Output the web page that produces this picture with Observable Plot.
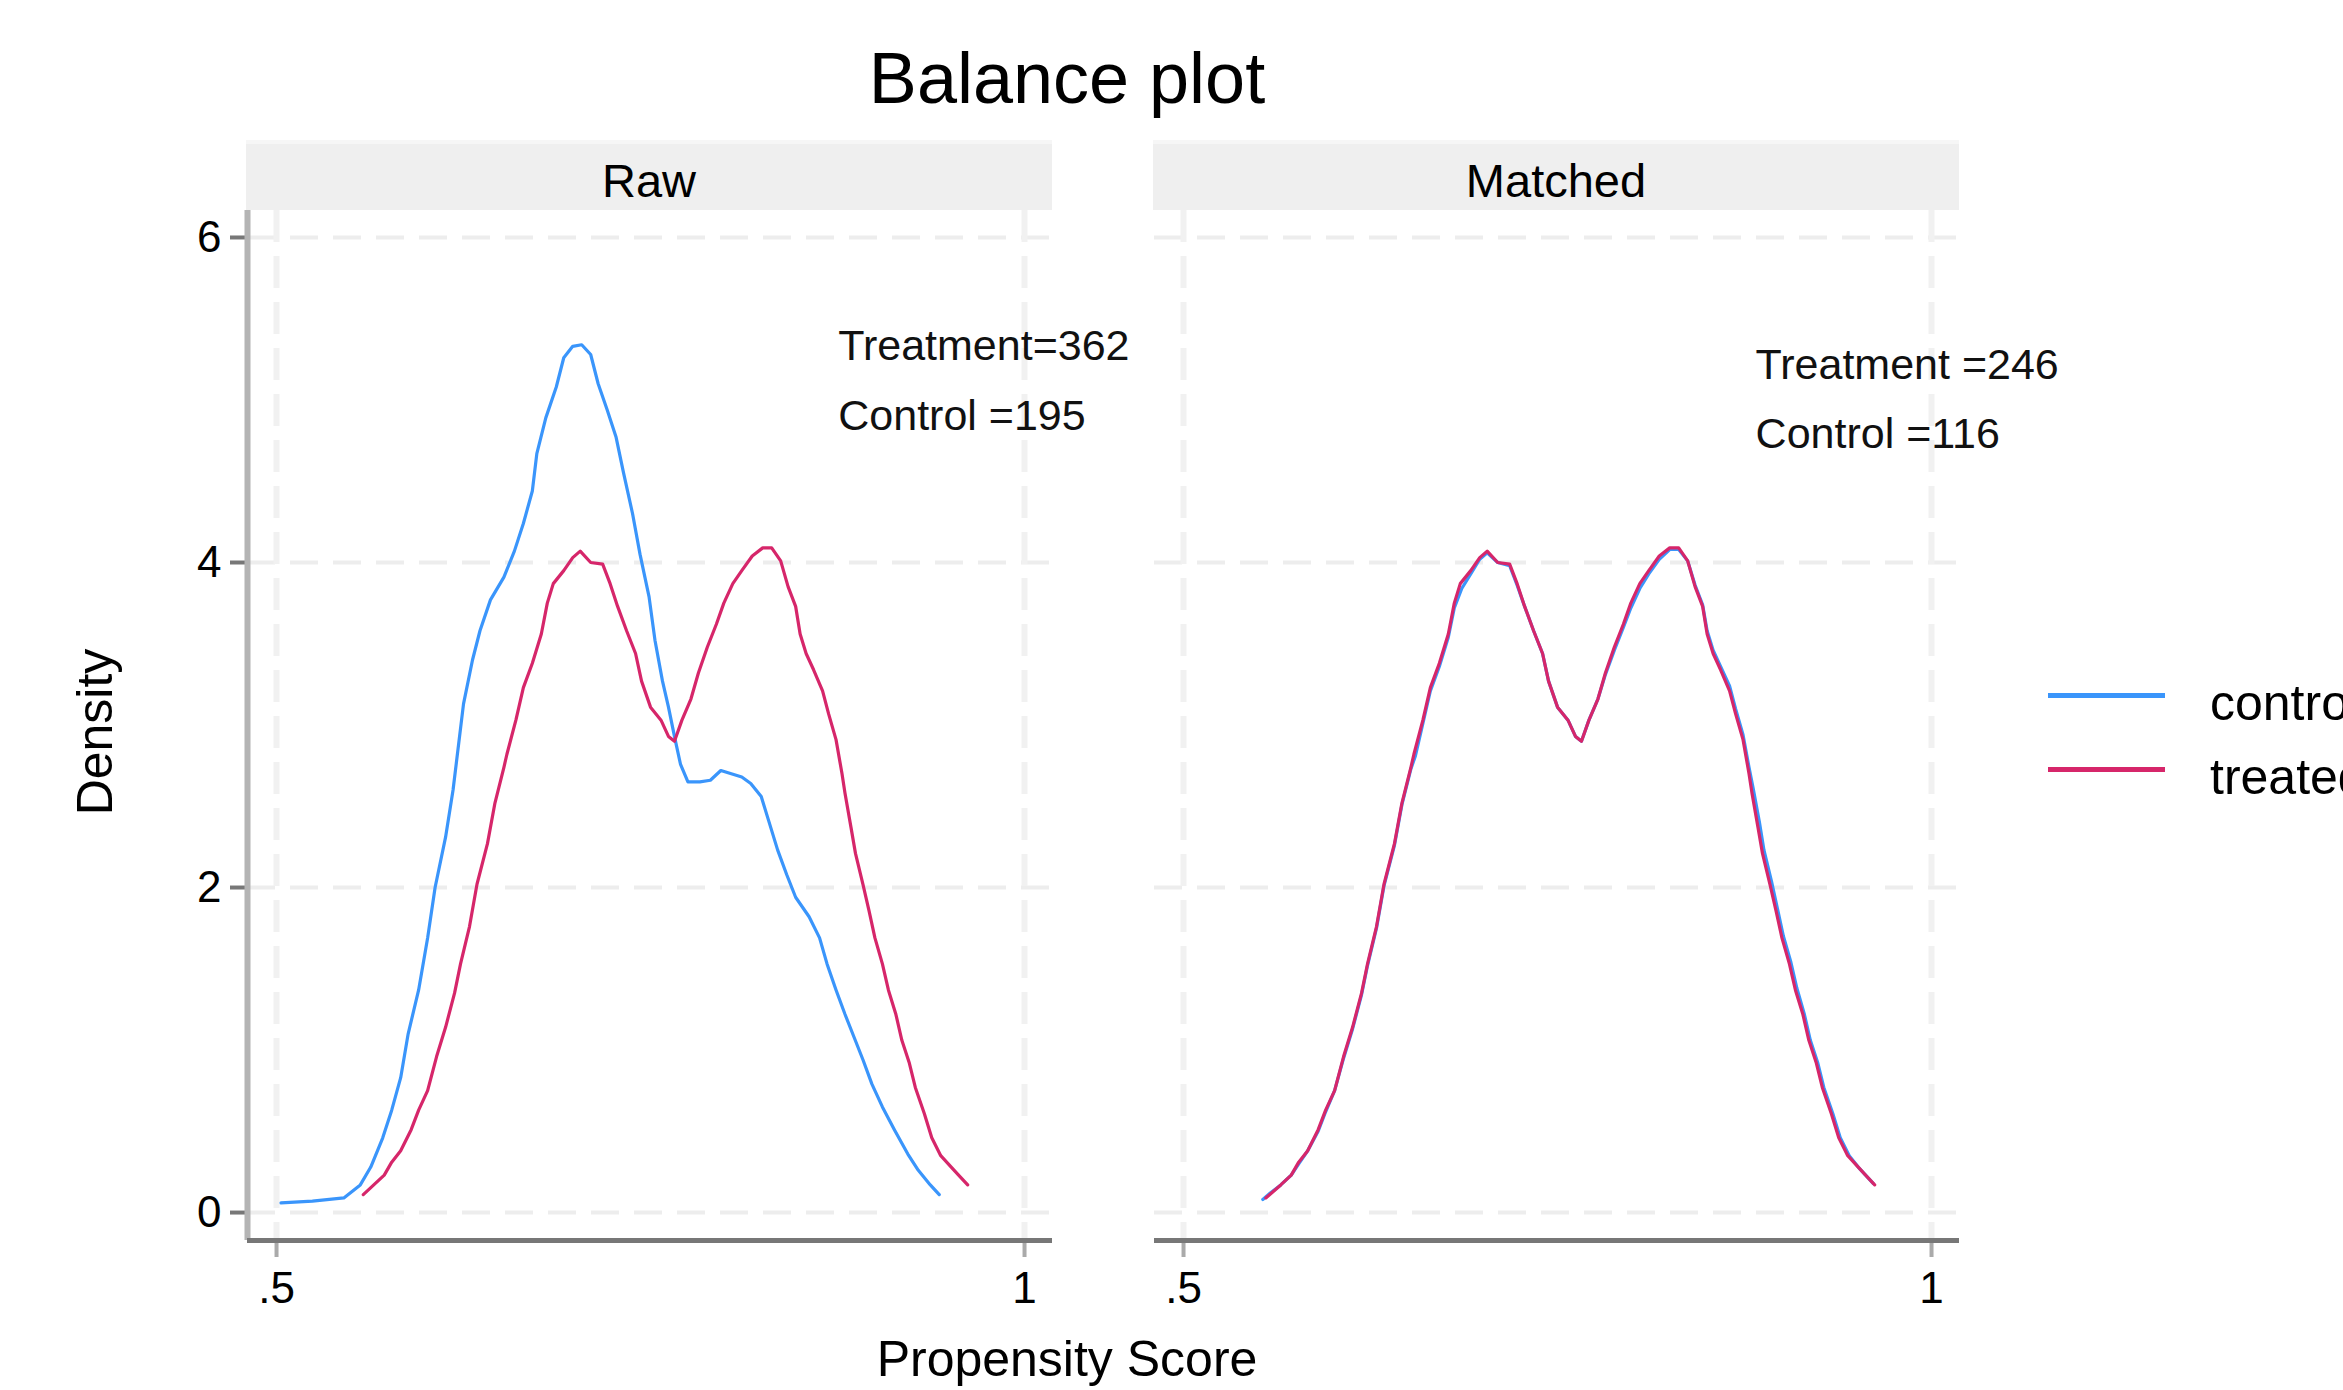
<!DOCTYPE html>
<html>
<head>
<meta charset="utf-8">
<script src="https://cdn.jsdelivr.net/npm/d3@7"></script>
<script src="https://cdn.jsdelivr.net/npm/@observablehq/plot@0.6"></script>
<style>
  body { margin: 0; background: #fff; overflow: hidden; }
  #wrap { position: relative; width: 2343px; height: 1390px; overflow: hidden;
          font-family: "Liberation Sans", Arial, Helvetica, sans-serif; color: #000; background: #fff; }
  .abs { position: absolute; white-space: nowrap; line-height: 1; }
  .plotbox { position: absolute; top: 0; }
  .plotbox svg { overflow: visible; }
  g[aria-label="y-axis tick"] { stroke: #777; stroke-width: 4px; }
  g[aria-label="x-axis tick"] { stroke: #aaa; stroke-width: 4px; }
  g[aria-label="y-axis"] .tick line { stroke: #777; stroke-width: 4px; }
  g[aria-label="x-axis"] .tick line { stroke: #aaa; stroke-width: 4px; }
  g[aria-label="y-axis"] path.domain, g[aria-label="x-axis"] path.domain { display: none; }
</style>
</head>
<body>
<div id="wrap"></div>
<script>
// ---------------- data ----------------
const chartTitle = "Balance plot";
const xTitle = "Propensity Score";
const yTitle = "Density";
const panels = ["Raw", "Matched"];
const groups = ["control", "treated"];
const groupColors = ["#3a95fb", "#d6266a"];
const xTicks = [0.5, 1];
const xTickLabels = [".5", "1"];
const yTicks = [0, 2, 4, 6];
const rawNotes = ["Treatment=362", "Control =195"];
const matchedNotes = ["Treatment =246", "Control =116"];

// kernel density curves: [propensity score, density]
const rawControl = [[0.503,0.06],[0.524,0.07],[0.545,0.09],[0.556,0.17],[0.563,0.28],[0.571,0.46],[0.577,0.63],[0.583,0.83],[0.588,1.10],[0.595,1.37],[0.601,1.69],[0.606,2.00],[0.613,2.31],[0.618,2.60],[0.625,3.13],[0.631,3.40],[0.636,3.58],[0.643,3.77],[0.652,3.91],[0.659,4.07],[0.665,4.24],[0.671,4.44],[0.674,4.67],[0.680,4.89],[0.687,5.08],[0.692,5.26],[0.698,5.33],[0.704,5.34],[0.710,5.28],[0.715,5.10],[0.721,4.94],[0.727,4.77],[0.732,4.55],[0.738,4.30],[0.743,4.05],[0.749,3.79],[0.753,3.52],[0.758,3.27],[0.762,3.11],[0.766,2.93],[0.770,2.76],[0.775,2.65],[0.783,2.65],[0.790,2.66],[0.797,2.72],[0.804,2.70],[0.811,2.68],[0.817,2.64],[0.824,2.56],[0.829,2.41],[0.835,2.23],[0.841,2.08],[0.847,1.94],[0.856,1.82],[0.863,1.69],[0.868,1.53],[0.874,1.37],[0.880,1.22],[0.886,1.08],[0.892,0.94],[0.898,0.79],[0.905,0.65],[0.913,0.51],[0.922,0.36],[0.929,0.26],[0.937,0.17],[0.943,0.11]];

const rawTreated = [[0.558,0.11],[0.565,0.17],[0.572,0.23],[0.577,0.31],[0.583,0.38],[0.590,0.51],[0.595,0.63],[0.601,0.75],[0.607,0.96],[0.613,1.14],[0.619,1.35],[0.623,1.53],[0.629,1.76],[0.634,2.02],[0.641,2.27],[0.646,2.52],[0.652,2.74],[0.654,2.82],[0.660,3.03],[0.665,3.23],[0.671,3.38],[0.677,3.56],[0.681,3.75],[0.685,3.87],[0.692,3.95],[0.698,4.03],[0.703,4.07],[0.710,4.00],[0.718,3.99],[0.723,3.87],[0.728,3.73],[0.734,3.58],[0.740,3.44],[0.744,3.27],[0.750,3.11],[0.757,3.03],[0.762,2.93],[0.766,2.90],[0.771,3.03],[0.777,3.16],[0.782,3.32],[0.788,3.48],[0.794,3.62],[0.799,3.75],[0.805,3.87],[0.811,3.95],[0.818,4.04],[0.825,4.09],[0.831,4.09],[0.837,4.01],[0.842,3.85],[0.847,3.73],[0.850,3.56],[0.854,3.44],[0.859,3.34],[0.865,3.21],[0.869,3.07],[0.874,2.91],[0.878,2.70],[0.880,2.58],[0.884,2.37],[0.887,2.21],[0.892,2.02],[0.896,1.86],[0.900,1.69],[0.905,1.53],[0.909,1.37],[0.914,1.22],[0.918,1.06],[0.923,0.92],[0.927,0.77],[0.933,0.61],[0.938,0.46],[0.944,0.35],[0.951,0.28],[0.957,0.22],[0.962,0.17]];

const matchedControl = [[0.553,0.08],[0.558,0.12],[0.565,0.17],[0.572,0.23],[0.577,0.30],[0.583,0.38],[0.590,0.50],[0.595,0.62],[0.601,0.75],[0.607,0.95],[0.613,1.13],[0.619,1.34],[0.623,1.52],[0.629,1.75],[0.634,2.01],[0.641,2.26],[0.646,2.51],[0.652,2.73],[0.655,2.81],[0.660,3.01],[0.665,3.21],[0.671,3.36],[0.677,3.54],[0.681,3.72],[0.686,3.84],[0.692,3.93],[0.698,4.02],[0.703,4.06],[0.710,4.00],[0.718,3.98],[0.723,3.86],[0.728,3.73],[0.734,3.58],[0.740,3.44],[0.744,3.27],[0.750,3.11],[0.757,3.03],[0.762,2.93],[0.766,2.90],[0.771,3.03],[0.777,3.16],[0.782,3.31],[0.788,3.46],[0.794,3.60],[0.799,3.72],[0.805,3.84],[0.811,3.93],[0.818,4.02],[0.825,4.08],[0.831,4.08],[0.837,4.01],[0.842,3.86],[0.847,3.74],[0.850,3.58],[0.854,3.46],[0.859,3.36],[0.865,3.24],[0.869,3.10],[0.874,2.94],[0.878,2.74],[0.881,2.60],[0.885,2.40],[0.888,2.23],[0.893,2.04],[0.897,1.87],[0.901,1.70],[0.906,1.54],[0.910,1.38],[0.915,1.22],[0.919,1.06],[0.924,0.92],[0.928,0.77],[0.934,0.61],[0.939,0.46],[0.945,0.35],[0.951,0.28],[0.957,0.22],[0.961,0.18]];

const matchedTreated = [[0.555,0.09],[0.560,0.13],[0.565,0.17],[0.572,0.23],[0.577,0.31],[0.583,0.38],[0.590,0.51],[0.595,0.63],[0.601,0.75],[0.607,0.96],[0.613,1.14],[0.619,1.35],[0.623,1.53],[0.629,1.76],[0.634,2.02],[0.641,2.27],[0.646,2.52],[0.652,2.74],[0.654,2.82],[0.660,3.03],[0.665,3.23],[0.671,3.38],[0.677,3.56],[0.681,3.75],[0.685,3.87],[0.692,3.95],[0.698,4.03],[0.703,4.07],[0.710,4.00],[0.718,3.99],[0.723,3.87],[0.728,3.73],[0.734,3.58],[0.740,3.44],[0.744,3.27],[0.750,3.11],[0.757,3.03],[0.762,2.93],[0.766,2.90],[0.771,3.03],[0.777,3.16],[0.782,3.32],[0.788,3.48],[0.794,3.62],[0.799,3.75],[0.805,3.87],[0.811,3.95],[0.818,4.04],[0.825,4.09],[0.831,4.09],[0.837,4.01],[0.842,3.85],[0.847,3.73],[0.850,3.56],[0.854,3.44],[0.859,3.34],[0.865,3.21],[0.869,3.07],[0.874,2.91],[0.878,2.70],[0.880,2.58],[0.884,2.37],[0.887,2.21],[0.892,2.02],[0.896,1.86],[0.900,1.69],[0.905,1.53],[0.909,1.37],[0.914,1.22],[0.918,1.06],[0.923,0.92],[0.927,0.77],[0.933,0.61],[0.938,0.46],[0.944,0.35],[0.951,0.28],[0.957,0.22],[0.962,0.17]];

// ---------------- layout ----------------
const FONT = '"Liberation Sans", Arial, Helvetica, sans-serif';
const W = 2343, H = 1390;
const xDomain = [0.4806, 1.0187];
const yDomain = [-0.172, 6.166];
const marginTop = 210, marginBottom = 150;

const wrap = document.getElementById("wrap");

function toRows(series) {
  return series.flatMap(([g, pts]) => pts.map(([x, y]) => ({x, y, group: g})));
}

function makePanel({series, notes, noteX, noteY, showY, left, width, mLeft, mRight}) {
  const rows = toRows(series);
  const chart = Plot.plot({
    width, height: H,
    marginLeft: mLeft, marginRight: mRight, marginTop, marginBottom,
    style: {fontSize: "44px", fontFamily: FONT, background: "transparent", color: "#000", overflow: "visible"},
    x: {domain: xDomain, ticks: xTicks, tickFormat: d => xTickLabels[xTicks.indexOf(d)],
        tickSize: 17, tickPadding: 14, label: null},
    y: {domain: yDomain, ticks: yTicks, tickFormat: d => String(d), tickSize: 17, tickPadding: 9,
        label: null, axis: showY ? "left" : null},
    color: {domain: groups, range: groupColors},
    marks: [
      Plot.ruleY(yTicks, {stroke: "#ededed", strokeWidth: 4, strokeDasharray: "28,15"}),
      Plot.ruleX(xTicks, {stroke: "#f1f1f1", strokeWidth: 6, strokeDasharray: "32,14"}),
      showY ? Plot.ruleX([xDomain[0]], {stroke: "#b4b4b4", strokeWidth: 6}) : null,
      Plot.ruleY([yDomain[0]], {stroke: "#777", strokeWidth: 5}),
      Plot.line(rows, {x: "x", y: "y", z: "group", stroke: "group", strokeWidth: 3.2,
                       curve: "linear", strokeLinejoin: "round"}),
      Plot.text(notes, {x: noteX, y: (d, i) => noteY[i], text: d => d, textAnchor: "start",
                        fontSize: 43, fill: "#111"})
    ]
  });
  const box = document.createElement("div");
  box.className = "plotbox";
  box.style.left = left + "px";
  box.appendChild(chart);
  wrap.appendChild(box);
}

makePanel({
  series: [["control", rawControl], ["treated", rawTreated]],
  notes: rawNotes, noteX: 0.8755, noteY: [5.33, 4.90],
  showY: true, left: 0, width: 1154, mLeft: 247, mRight: 102
});
makePanel({
  series: [["control", matchedControl], ["treated", matchedTreated]],
  notes: matchedNotes, noteX: 0.8824, noteY: [5.215, 4.79],
  showY: false, left: 1154, width: W - 1154, mLeft: 0, mRight: 384
});

// ---------------- strips, titles, legend ----------------
function addText(txt, css) {
  const d = document.createElement("div");
  d.className = "abs";
  d.textContent = txt;
  Object.assign(d.style, css);
  wrap.appendChild(d);
  return d;
}

const stripLefts = [246, 1153];
panels.forEach((p, i) => {
  const s = document.createElement("div");
  Object.assign(s.style, {position: "absolute", left: stripLefts[i] + "px", top: "140px",
    width: "806px", height: "70px", background: "#efefef", boxSizing: "border-box",
    borderTop: "4px solid #f6f6f6"});
  wrap.appendChild(s);
  addText(p, {left: (stripLefts[i] + 403) + "px", top: "157px", fontSize: "47px",
              transform: "translateX(-50%)"});
});

addText(chartTitle, {left: "1067px", top: "42px", fontSize: "72px", transform: "translateX(-50%)"});
addText(xTitle, {left: "1067px", top: "1334px", fontSize: "50px", transform: "translateX(-50%)"});
addText(yTitle, {left: "95px", top: "732px", fontSize: "50px",
                 transform: "translate(-50%, -50%) rotate(-90deg)"});

const legendY = [696, 770];
groups.forEach((g, i) => {
  const ln = document.createElement("div");
  Object.assign(ln.style, {position: "absolute", left: "2048px", top: (legendY[i] - 3) + "px",
    width: "117px", height: "5px", background: groupColors[i]});
  wrap.appendChild(ln);
  addText(g, {left: "2210px", top: (legendY[i] - 18) + "px", fontSize: "50px"});
});
</script>
</body>
</html>
